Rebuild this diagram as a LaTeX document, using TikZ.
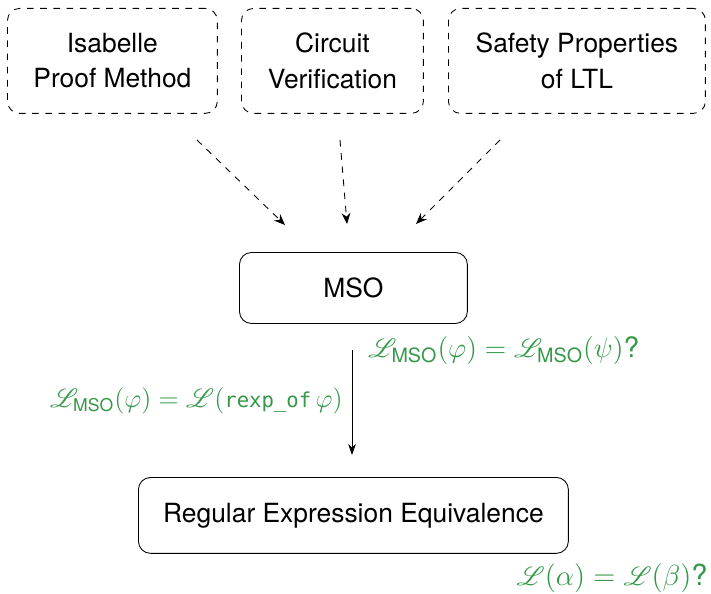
\RequirePackage{fix-cm}
\documentclass[tikz,border=0pt]{standalone}
\usepackage{amsmath}
\usepackage{fontspec}
\usepackage{mathrsfs}
\setmainfont{TeX Gyre Heros}
\setsansfont{TeX Gyre Heros}
\setmonofont[Scale=0.78]{DejaVu Sans Mono}
\usetikzlibrary{arrows.meta}
\definecolor{lemma}{RGB}{52,152,72}
\tikzset{
  px/.style={x=0.4545pt,y=-0.4545pt},
  srcbox/.style={draw,dashed,rounded corners=5.5pt,minimum width=#1,minimum height=47.7pt,align=center,anchor=north west,font=\fontsize{12}{16}\selectfont},
  solidbox/.style={draw,rounded corners=5.5pt,align=center,anchor=north west,font=\fontsize{12}{16}\selectfont},
  feed/.style={dashed,-{Stealth[length=5pt,width=4pt]}},
  reduce/.style={-{Stealth[length=5pt,width=3.5pt]}},
  goal/.style={text=lemma,font=\fontsize{12}{15}\selectfont,inner sep=0pt},
}
\newcommand{\Lang}{\mathscr{L}}
\newcommand{\Lmso}{\mathscr{L}_{\text{\sffamily MSO}}}
\begin{document}
\begin{tikzpicture}[px]
  \useasboundingbox (0,0) rectangle (711,593);
  % application sources
  \node[srcbox=95.4pt] (isa) at (7,8) {Isabelle\\Proof Method};
  \node[srcbox=82.7pt] (circ) at (241,8) {Circuit\\Verification};
  \node[srcbox=116.8pt] (ltl) at (448,8) {Safety Properties\\of LTL};
  % logic and automata layers
  \node[solidbox,minimum width=103.6pt,minimum height=32.3pt] (mso) at (239,252) {MSO};
  \node[solidbox,minimum width=195.4pt,minimum height=34.5pt] (regex) at (138,477) {Regular Expression Equivalence};
  % connector end points
  \coordinate (isaout) at (197,140);
  \coordinate (circout) at (340,140);
  \coordinate (ltlout) at (500,140);
  \coordinate (msoinA) at (285,225);
  \coordinate (msoinB) at (347,224);
  \coordinate (msoinC) at (416,224);
  \coordinate (msoout) at (352,350);
  \coordinate (regexin) at (352,455);
  \draw[feed] (isaout) -- (msoinA);
  \draw[feed] (circout) -- (msoinB);
  \draw[feed] (ltlout) -- (msoinC);
  \draw[reduce] (msoout) -- (regexin);
  % goals and translation lemma
  \node[goal,anchor=west,font=\fontsize{12.8}{15}\selectfont] (msogoal) at (368,350) {$\Lmso(\varphi)=\Lmso(\psi)$?};
  \node[goal,anchor=east] (lemma) at (343,401) {$\Lmso(\varphi)=\Lang(\texttt{rexp\_of}\,\varphi)$};
  \node[goal,anchor=east,font=\fontsize{13.2}{16}\selectfont] (regexgoal) at (708,578) {$\Lang(\alpha)=\Lang(\beta)$?};
\end{tikzpicture}
\end{document}
